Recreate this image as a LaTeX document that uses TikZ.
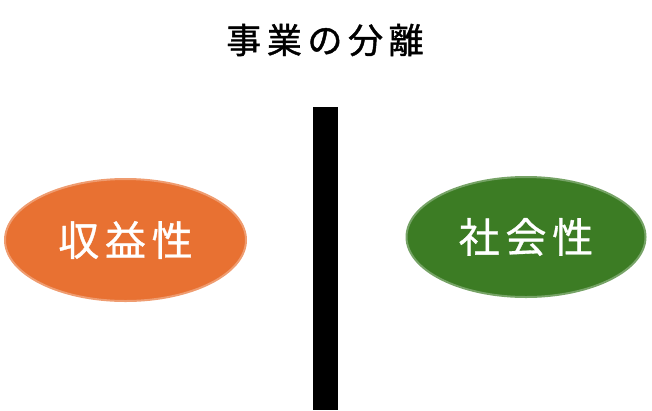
\documentclass[tikz,border=0pt]{standalone}
\usepackage{fontspec}
\newfontfamily\cjk[LetterSpace=14]{Noto Sans CJK JP}
\newfontfamily\cjktitle[LetterSpace=16,FakeBold=1.2]{Noto Sans CJK JP}
\newfontfamily\cjkblob[LetterSpace=14,FakeBold=0.8]{Noto Sans CJK JP}
\definecolor{orangefill}{RGB}{232,113,50}
\definecolor{greenfill}{RGB}{60,124,36}
\tikzset{
  blob/.style={ellipse, inner sep=0pt, text=white, font=\cjkblob\fontsize{41}{45}\selectfont},
}
\usetikzlibrary{shapes.geometric}
\begin{document}
\begin{tikzpicture}[x=1pt,y=-1pt]
\useasboundingbox (0,0) rectangle (652,410);
\node[font=\cjktitle\fontsize{35}{40}\selectfont, text=black] (title) at (325,40) {事業の分離};
\fill[black] (313,107) rectangle (338,410);
\node[blob, fill=orangefill, draw=orangefill!70!white, line width=2pt, minimum width=241pt, minimum height=122pt] (profit) at (125.5,240) {収益性};
\node[blob, fill=greenfill, draw=greenfill!70!white, line width=2pt, minimum width=239pt, minimum height=120pt] (social) at (526,237) {社会性};
\end{tikzpicture}
\end{document}
